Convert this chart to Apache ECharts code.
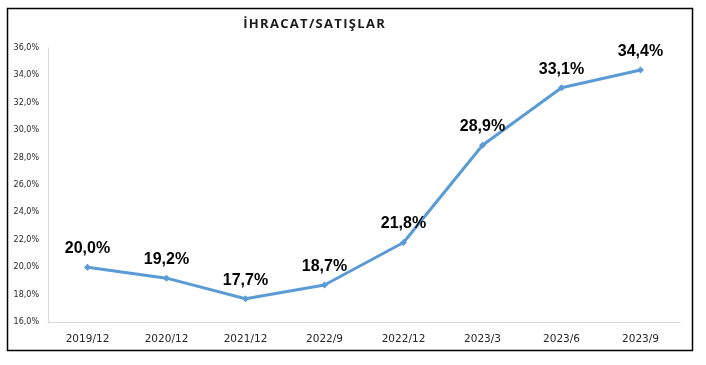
<!DOCTYPE html>
<html>
<head>
<meta charset="utf-8">
<script src="https://cdn.jsdelivr.net/npm/echarts@6/dist/echarts.min.js"></script>
<style>
html,body{margin:0;padding:0;background:#fff;}
#c{width:706px;height:365px;}
</style>
</head>
<body>
<div id="c"></div>
<script>
var categories = ['2019/12','2020/12','2021/12','2022/9','2022/12','2023/3','2023/6','2023/9'];
var values = [20.0, 19.2, 17.7, 18.7, 21.8, 28.9, 33.1, 34.4];
var yMin = 16, yMax = 36, yStep = 2;

function fmt(v){ return v.toFixed(1).replace('.', ',') + '%'; }

var chart = echarts.init(document.getElementById('c'), null, {renderer:'canvas'});
chart.setOption({
  animation:false,
  backgroundColor:'#fff',
  graphic:[{
    type:'rect', shape:{x:7.5,y:8.5,width:685,height:342},
    style:{fill:'none',stroke:'#000',lineWidth:1.5}, z:-1
  }],
  title:{
    text:'İ H R A C A T / S A T I Ş L A R'.replace(/ /g,'\u200A'),
    left:309, top:13, textAlign:'center',
    textStyle:{fontFamily:'Open Sans', fontSize:13, fontWeight:'bold', color:'#1a1a1a'}
  },
  grid:{left:48, right:26, top:48, bottom:43},
  xAxis:{
    type:'category', data:categories, boundaryGap:true,
    axisLine:{lineStyle:{color:'#d9d9d9', width:1}},
    axisTick:{show:false},
    axisLabel:{fontFamily:'DejaVu Sans', fontSize:10.5, color:'#262626', margin:12, letterSpacing:1.6}
  },
  yAxis:{
    type:'value', min:yMin, max:yMax, interval:yStep,
    axisLine:{show:true, lineStyle:{color:'#d9d9d9', width:1}},
    axisTick:{show:false},
    splitLine:{show:false},
    axisLabel:{fontFamily:'DejaVu Sans', fontSize:8, color:'#262626', margin:9,
      formatter:function(v){ return fmt(v); }}
  },
  series:[{
    type:'line', data:values,
    lineStyle:{color:'#5b9bd5', width:3},
    itemStyle:{color:'#5b9bd5'},
    symbol:'diamond', symbolSize:7,
    label:{show:true, position:'top', distance:7,
      fontFamily:'Liberation Sans', fontSize:16, fontWeight:'bold', color:'#000',
      formatter:function(p){ return fmt(p.value); }}
  }]
});
</script>
</body>
</html>
